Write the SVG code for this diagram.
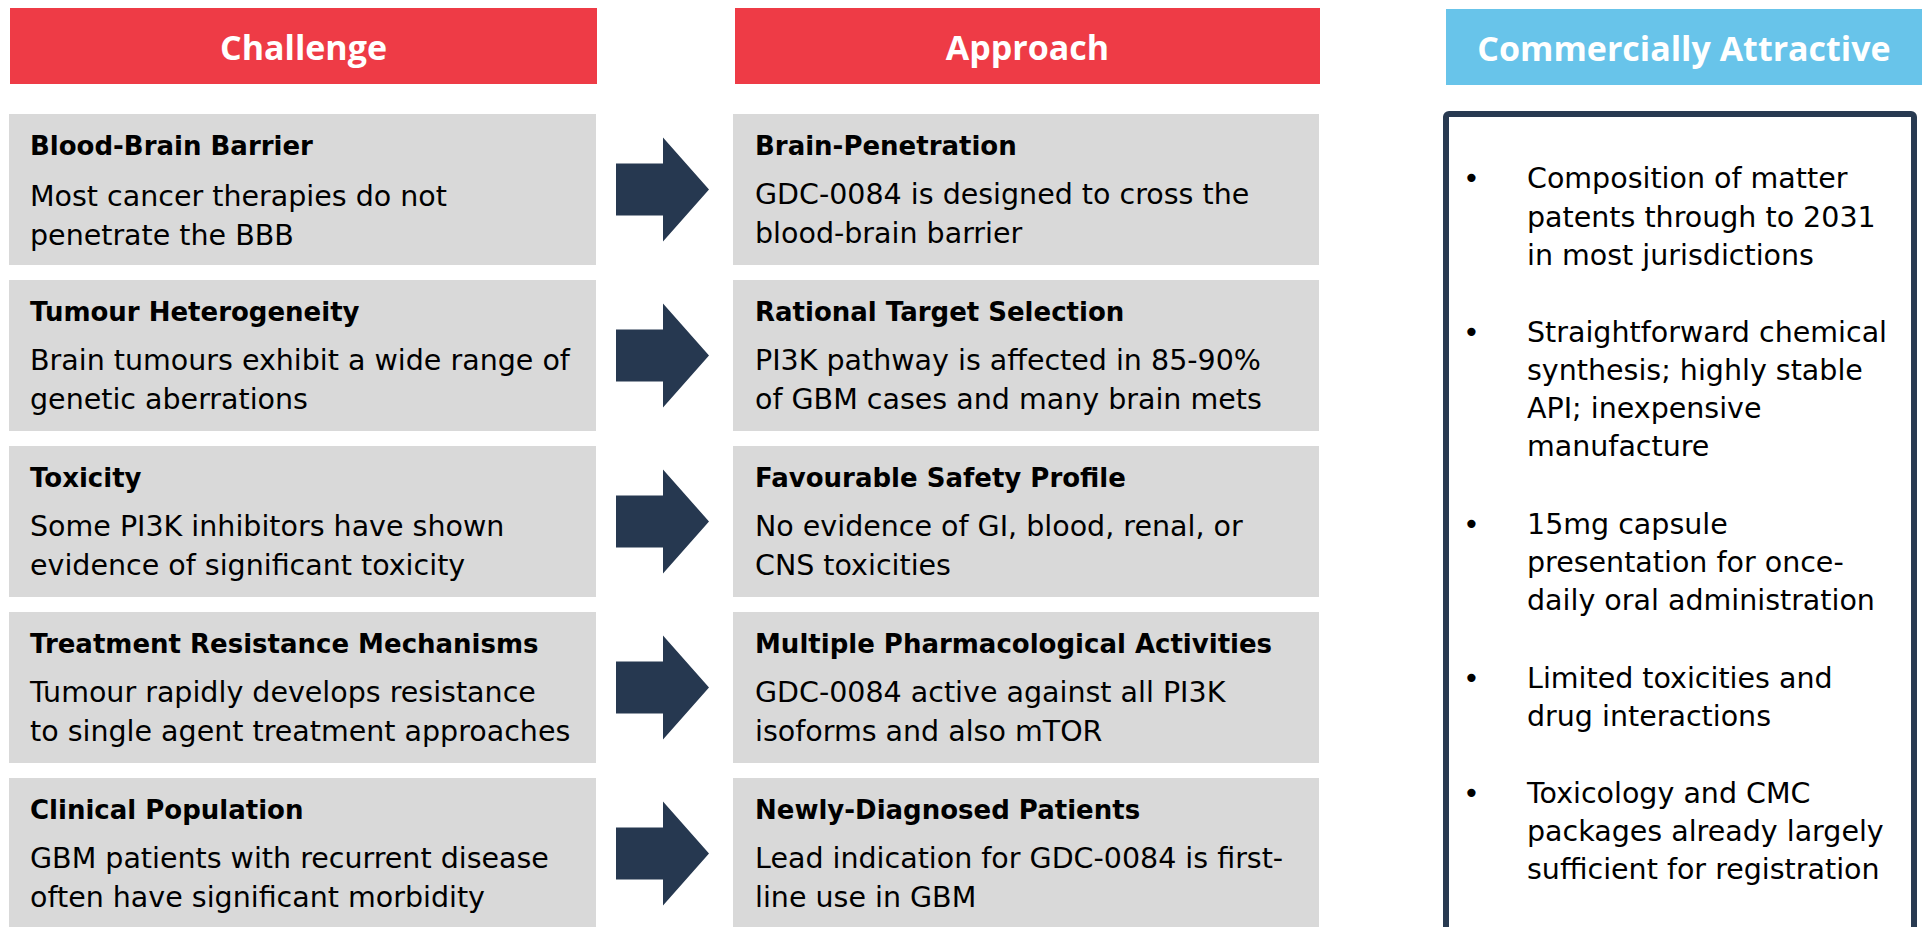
<svg xmlns="http://www.w3.org/2000/svg" width="1922" height="927" viewBox="0 0 1922 927">
  <defs>
    <style>
      .hdr-red { fill: #EE3B46; }
      .hdr-blue { fill: #68C4EA; }
      .hdr-txt { font-family: "Open Sans", "DejaVu Sans", sans-serif; font-weight: 700; font-size: 34px; fill: #FFFFFF; text-anchor: middle; }
      .card { fill: #D9D9D9; }
      .title { font-family: "DejaVu Sans", Verdana, sans-serif; font-weight: 700; font-size: 26px; fill: #000000; }
      .body { font-family: "DejaVu Sans", Verdana, sans-serif; font-size: 28.5px; fill: #000000; }
      .arrow { fill: #263850; }
      .frame { fill: #FFFFFF; stroke: #283A51; stroke-width: 6; }
    </style>
    <!-- block arrow centred on y=0 -->
    <path id="blockArrow" d="M616,-26 H663 V-52 L709,0 L663,52 V26 H616 Z"/>
  </defs>

  <rect width="1922" height="927" fill="#FFFFFF"/>

  <!-- column headers -->
  <g id="header-challenge">
    <rect class="hdr-red" x="10" y="8" width="587" height="76"/>
    <text class="hdr-txt" x="303.5" y="60">Challenge</text>
  </g>
  <g id="header-approach">
    <rect class="hdr-red" x="735" y="8" width="585" height="76"/>
    <text class="hdr-txt" x="1027.5" y="60">Approach</text>
  </g>
  <g id="header-commercial">
    <rect class="hdr-blue" x="1446" y="9" width="476" height="76"/>
    <text class="hdr-txt" x="1684" y="61">Commercially Attractive</text>
  </g>

  <!-- challenge cards -->
  <g id="challenge-1">
    <rect class="card" x="9" y="114" width="587" height="151"/>
    <text class="title" x="30" y="155">Blood-Brain Barrier</text>
    <text class="body" x="30" y="206">Most cancer therapies do not</text>
    <text class="body" x="30" y="245">penetrate the BBB</text>
  </g>
  <g id="challenge-2">
    <rect class="card" x="9" y="280" width="587" height="151"/>
    <text class="title" x="30" y="321">Tumour Heterogeneity</text>
    <text class="body" x="30" y="370">Brain tumours exhibit a wide range of</text>
    <text class="body" x="30" y="409">genetic aberrations</text>
  </g>
  <g id="challenge-3">
    <rect class="card" x="9" y="446" width="587" height="151"/>
    <text class="title" x="30" y="487">Toxicity</text>
    <text class="body" x="30" y="536">Some PI3K inhibitors have shown</text>
    <text class="body" x="30" y="575">evidence of significant toxicity</text>
  </g>
  <g id="challenge-4">
    <rect class="card" x="9" y="612" width="587" height="151"/>
    <text class="title" x="30" y="653">Treatment Resistance Mechanisms</text>
    <text class="body" x="30" y="702">Tumour rapidly develops resistance</text>
    <text class="body" x="30" y="741">to single agent treatment approaches</text>
  </g>
  <g id="challenge-5">
    <rect class="card" x="9" y="778" width="587" height="151"/>
    <text class="title" x="30" y="819">Clinical Population</text>
    <text class="body" x="30" y="868">GBM patients with recurrent disease</text>
    <text class="body" x="30" y="907">often have significant morbidity</text>
  </g>

  <!-- approach cards -->
  <g id="approach-1">
    <rect class="card" x="733" y="114" width="586" height="151"/>
    <text class="title" x="755" y="155">Brain-Penetration</text>
    <text class="body" x="755" y="204">GDC-0084 is designed to cross the</text>
    <text class="body" x="755" y="243">blood-brain barrier</text>
  </g>
  <g id="approach-2">
    <rect class="card" x="733" y="280" width="586" height="151"/>
    <text class="title" x="755" y="321">Rational Target Selection</text>
    <text class="body" x="755" y="370">PI3K pathway is affected in 85-90%</text>
    <text class="body" x="755" y="409">of GBM cases and many brain mets</text>
  </g>
  <g id="approach-3">
    <rect class="card" x="733" y="446" width="586" height="151"/>
    <text class="title" x="755" y="487">Favourable Safety Profile</text>
    <text class="body" x="755" y="536">No evidence of GI, blood, renal, or</text>
    <text class="body" x="755" y="575">CNS toxicities</text>
  </g>
  <g id="approach-4">
    <rect class="card" x="733" y="612" width="586" height="151"/>
    <text class="title" x="755" y="653">Multiple Pharmacological Activities</text>
    <text class="body" x="755" y="702">GDC-0084 active against all PI3K</text>
    <text class="body" x="755" y="741">isoforms and also mTOR</text>
  </g>
  <g id="approach-5">
    <rect class="card" x="733" y="778" width="586" height="151"/>
    <text class="title" x="755" y="819">Newly-Diagnosed Patients</text>
    <text class="body" x="755" y="868">Lead indication for GDC-0084 is first-</text>
    <text class="body" x="755" y="907">line use in GBM</text>
  </g>

  <!-- connectors: block arrows from challenge to approach -->
  <g id="connectors">
    <use href="#blockArrow" class="arrow" transform="translate(0,189.5)"/>
    <use href="#blockArrow" class="arrow" transform="translate(0,355.5)"/>
    <use href="#blockArrow" class="arrow" transform="translate(0,521.5)"/>
    <use href="#blockArrow" class="arrow" transform="translate(0,687.5)"/>
    <use href="#blockArrow" class="arrow" transform="translate(0,853.5)"/>
  </g>

  <!-- commercial benefits panel -->
  <g id="commercial-panel">
    <rect class="frame" x="1446" y="114" width="468" height="840" rx="3"/>
    <g class="body">
      <text x="1463" y="188">•</text>
      <text x="1527" y="188">Composition of matter</text>
      <text x="1527" y="226.5">patents through to 2031</text>
      <text x="1527" y="265">in most jurisdictions</text>

      <text x="1463" y="342">•</text>
      <text x="1527" y="342">Straightforward chemical</text>
      <text x="1527" y="380">synthesis; highly stable</text>
      <text x="1527" y="418">API; inexpensive</text>
      <text x="1527" y="456">manufacture</text>

      <text x="1463" y="534">•</text>
      <text x="1527" y="534">15mg capsule</text>
      <text x="1527" y="572">presentation for once-</text>
      <text x="1527" y="610">daily oral administration</text>

      <text x="1463" y="688">•</text>
      <text x="1527" y="688">Limited toxicities and</text>
      <text x="1527" y="726">drug interactions</text>

      <text x="1463" y="803">•</text>
      <text x="1527" y="803">Toxicology and CMC</text>
      <text x="1527" y="841">packages already largely</text>
      <text x="1527" y="879">sufficient for registration</text>
    </g>
  </g>
</svg>
